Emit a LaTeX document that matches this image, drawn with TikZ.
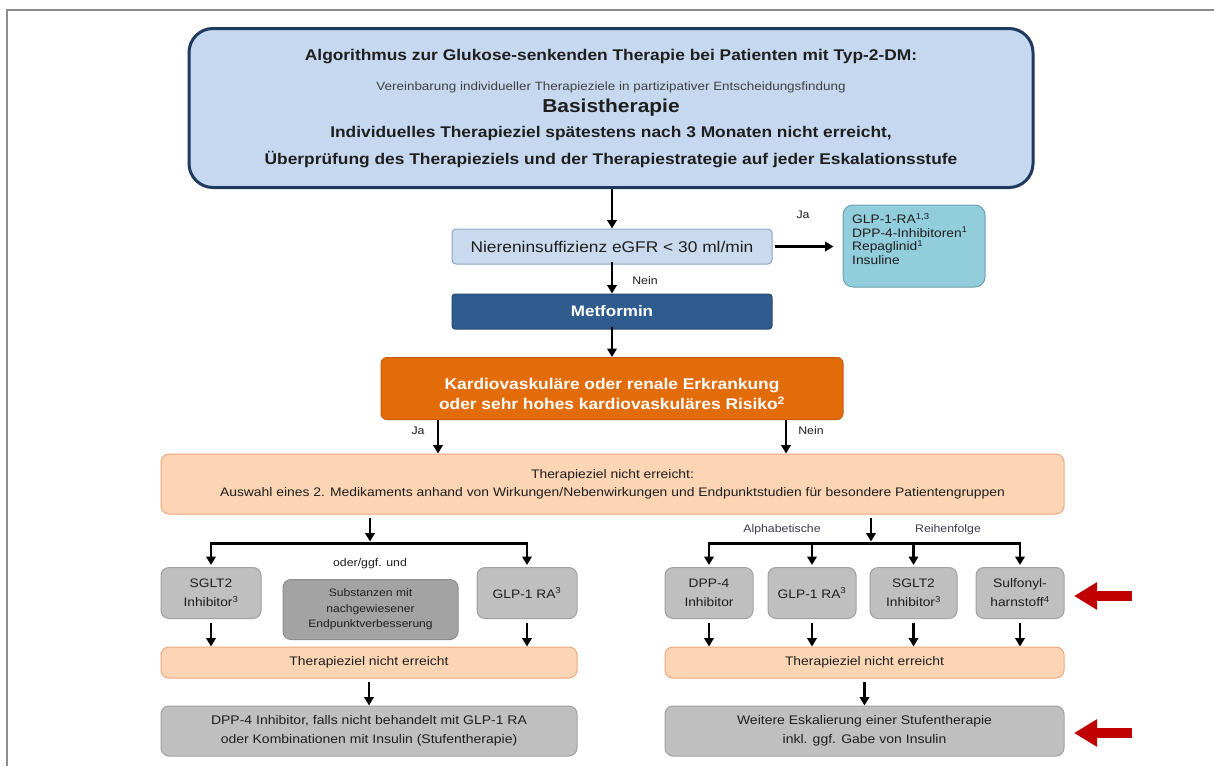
\documentclass[tikz,border=0pt]{standalone}
\usepackage{fontspec}
\setmainfont{Liberation Sans}[FakeStretch=1.12]
\usetikzlibrary{arrows.meta}
\definecolor{topfill}{HTML}{C6D8F0}
\definecolor{topdraw}{HTML}{1F3A60}
\definecolor{nierefill}{HTML}{C9D9EE}
\definecolor{nieredraw}{HTML}{8EA6C4}
\definecolor{glpfill}{HTML}{92CDDC}
\definecolor{glpdraw}{HTML}{6C9FB0}
\definecolor{metfill}{HTML}{2F5C8F}
\definecolor{metdraw}{HTML}{244A73}
\definecolor{orfill}{HTML}{E36C0A}
\definecolor{ordraw}{HTML}{C55A11}
\definecolor{lofill}{HTML}{FCD5B5}
\definecolor{lodraw}{HTML}{F2A77A}
\definecolor{grfill}{HTML}{BFBFBF}
\definecolor{grdraw}{HTML}{A0A0A0}
\definecolor{dgfill}{HTML}{A3A3A3}
\definecolor{dgdraw}{HTML}{8C8C8C}
\definecolor{redarr}{HTML}{C00000}
\definecolor{framecol}{HTML}{8C8C8C}
\definecolor{txt}{HTML}{1E1E1E}
\definecolor{lbl}{HTML}{3A3A50}
\newcommand{\fsz}[2]{\fontsize{#1pt}{#2pt}\selectfont}
\begin{document}
\begin{tikzpicture}[x=1pt,y=-1pt,
  box/.style={rectangle, inner sep=0pt, align=center, text=txt},
  topbox/.style={box, fill=topfill, draw=topdraw, line width=3pt, rounded corners=24pt},
  nierebox/.style={box, fill=nierefill, draw=nieredraw, line width=1pt, rounded corners=4pt, font=\fsz{15.5}{18}},
  glpbox/.style={box, fill=glpfill, draw=glpdraw, line width=1pt, rounded corners=10pt},
  glptxt/.style={inner sep=0pt, align=left, text=txt, font=\fsz{12.3}{13.6}},
  metbox/.style={box, fill=metfill, draw=metdraw, line width=1pt, rounded corners=3pt, text=white, font=\bfseries\fsz{15.2}{18}},
  orbox/.style={box, fill=orfill, draw=ordraw, line width=1pt, rounded corners=6pt},
  ortxt/.style={inner sep=0pt, align=center, text=white, font=\bfseries\fsz{15.5}{20.5}},
  lobox/.style={box, fill=lofill, draw=lodraw, line width=1pt, rounded corners=8pt, text=txt},
  graybox/.style={box, fill=grfill, draw=grdraw, line width=1pt, rounded corners=8pt, text=txt},
  dgraybox/.style={box, fill=dgfill, draw=dgdraw, line width=1pt, rounded corners=8pt, text=txt, font=\fsz{10.8}{15.5}},
  smallbox/.style={graybox, minimum height=51pt, font=\fsz{12.3}{19}},
  toptxt/.style={text=txt, inner sep=0pt},
  lab/.style={text=txt, inner sep=0pt, font=\fsz{11}{13}},
  arr/.style={-{Triangle[length=8.5pt,width=9.5pt]}, line width=2.2pt, black},
  bar/.style={line width=3pt, black},
  redarrow/.style={-{Triangle[length=23pt,width=26pt]}, line width=10pt, redarr}
]
\useasboundingbox (0,0) rectangle (1214,766);
\fill[white] (0,0) rectangle (1214,766);
\draw[framecol, line width=2pt] (7,766) -- (7,10) -- (1214,10);

% top box
\node[topbox, minimum width=844pt, minimum height=159pt] (top) at (611,108) {};
\node[toptxt, font=\bfseries\fsz{15.5}{18}] (t1) at (611,57) {Algorithmus zur Glukose-senkenden Therapie bei Patienten mit Typ-2-DM:};
\node[toptxt, font=\fsz{12}{13}, text=black!75] (t2) at (611,87) {Vereinbarung individueller Therapieziele in partizipativer Entscheidungsfindung};
\node[toptxt, font=\bfseries\fsz{18.7}{22}] (t3) at (611,108) {Basistherapie};
\node[toptxt, font=\bfseries\fsz{15.5}{18}] (t4) at (611,133) {Individuelles Therapieziel spätestens nach 3 Monaten nicht erreicht,};
\node[toptxt, font=\bfseries\fsz{15.5}{18}] (t5) at (611,160) {Überprüfung des Therapieziels und der Therapiestrategie auf jeder Eskalationsstufe};

% Niere / GLP / Metformin / orange
\node[nierebox, minimum width=320pt, minimum height=35pt] (niere) at (612,246.5) {Niereninsuffizienz eGFR < 30 ml/min};
\node[glpbox, minimum width=142pt, minimum height=82pt] (glp) at (914,246) {};
\node[glptxt, anchor=west] (glptext) at (852,239) {GLP-1-RA\textsuperscript{1,3}\\DPP-4-Inhibitoren\textsuperscript{1}\\Repaglinid\textsuperscript{1}\\Insuline};
\node[metbox, minimum width=320pt, minimum height=35pt] (met) at (612,311.5) {Metformin};
\node[orbox, minimum width=462pt, minimum height=62pt] (orange) at (612,388.5) {};
\node[ortxt] (ortext) at (612,394) {Kardiovaskuläre oder renale Erkrankung\\oder sehr hohes kardiovaskuläres Risiko\textsuperscript{2}};

% big light orange
\node[lobox, minimum width=903pt, minimum height=60pt, font=\fsz{12.4}{18}] (big) at (612.5,484) {Therapieziel nicht erreicht:\\Auswahl eines 2. Medikaments anhand von Wirkungen/Nebenwirkungen und Endpunktstudien für besondere Patientengruppen};

% left group
\node[smallbox, minimum width=100pt] (sgltL) at (211,593) {SGLT2\\Inhibitor\textsuperscript{3}};
\node[dgraybox, minimum width=175pt, minimum height=60pt] (subst) at (370.5,609.5) {Substanzen mit\\nachgewiesener\\Endpunktverbesserung};
\node[smallbox, minimum width=100pt] (glpL) at (527,593) {GLP-1 RA\textsuperscript{3}};
\node[lobox, minimum width=416pt, minimum height=31pt, font=\fsz{12.4}{16}] (tzL) at (369,662.5) {Therapieziel nicht erreicht};
\node[graybox, minimum width=416pt, minimum height=50pt, font=\fsz{12.5}{19}] (botL) at (369,731) {DPP-4 Inhibitor, falls nicht behandelt mit GLP-1 RA\\oder Kombinationen mit Insulin (Stufentherapie)};

% right group
\node[smallbox, minimum width=88pt] (dpp) at (709,593) {DPP-4\\Inhibitor};
\node[smallbox, minimum width=88pt] (glpR) at (812,593) {GLP-1 RA\textsuperscript{3}};
\node[smallbox, minimum width=87pt] (sgltR) at (913.5,593) {SGLT2\\Inhibitor\textsuperscript{3}};
\node[smallbox, minimum width=88pt] (sulf) at (1020,593) {Sulfonyl-\\harnstoff\textsuperscript{4}};
\node[lobox, minimum width=399pt, minimum height=31pt, font=\fsz{12.4}{16}] (tzR) at (864.5,662.5) {Therapieziel nicht erreicht};
\node[graybox, minimum width=399pt, minimum height=50pt, font=\fsz{12.5}{19}] (botR) at (864.5,731) {Weitere Eskalierung einer Stufentherapie\\inkl. ggf. Gabe von Insulin};

% labels
\node[lab] (lja1) at (803,215) {Ja};
\node[lab] (lnein1) at (645,281) {Nein};
\node[lab] (lja2) at (418,431) {Ja};
\node[lab] (lnein2) at (811,431) {Nein};
\node[lab] (loder) at (370,564) {oder/ggf. und};
\node[lab, text=lbl] (lalpha) at (782,530) {Alphabetische};
\node[lab, text=lbl] (lreihe) at (948,530) {Reihenfolge};

% connectors top part
\draw[arr] (top.south -| niere.north) -- (niere.north);
\draw[arr, shorten >=9pt, shorten <=2pt] (niere.east) -- (glp.west |- niere.east);
\draw[arr] ([yshift=3pt]niere.south) -- (met.north);
\draw[arr] ([yshift=3pt]met.south) -- (orange.north);
\coordinate (jax) at (438,0);
\coordinate (neinx) at (786,0);
\draw[arr] (orange.south -| jax) -- (big.north -| jax);
\draw[arr] (orange.south -| neinx) -- (big.north -| neinx);

% left split
\coordinate (lsp) at (370,543);
\draw[arr, shorten >=1.5pt, shorten <=3pt] (big.south -| lsp) -- (lsp);
\draw[bar] ([xshift=-1.1pt]sgltL.north |- lsp) -- ([xshift=1.1pt]glpL.north |- lsp);
\draw[arr, shorten >=2pt] (sgltL.north |- lsp) -- (sgltL.north);
\draw[arr, shorten >=2pt] (glpL.north |- lsp) -- (glpL.north);
\draw[arr, shorten <=4pt] (sgltL.south) -- (sgltL.south |- tzL.north);
\draw[arr, shorten <=4pt] (glpL.south) -- (glpL.south |- tzL.north);
\draw[arr, shorten <=3pt] (tzL.south) -- (botL.north);

% right split
\coordinate (rsp) at (871,543);
\draw[arr, shorten >=1.5pt, shorten <=3pt] (big.south -| rsp) -- (rsp);
\draw[bar] ([xshift=-1.1pt]dpp.north |- rsp) -- ([xshift=1.1pt]sulf.north |- rsp);
\foreach \b in {dpp,glpR,sgltR,sulf}{
  \draw[arr, shorten >=2pt] (\b.north |- rsp) -- (\b.north);
  \draw[arr, shorten <=4pt] (\b.south) -- (\b.south |- tzR.north);
}
\draw[arr, shorten <=3pt] (tzR.south) -- (botR.north);

% red arrows
\coordinate (ra1s) at (1132,596);
\coordinate (ra1e) at (1074,596);
\coordinate (ra2s) at (1132,733);
\coordinate (ra2e) at (1074,733);
\draw[redarrow] (ra1s) -- (ra1e);
\draw[redarrow] (ra2s) -- (ra2e);
\end{tikzpicture}
\end{document}
